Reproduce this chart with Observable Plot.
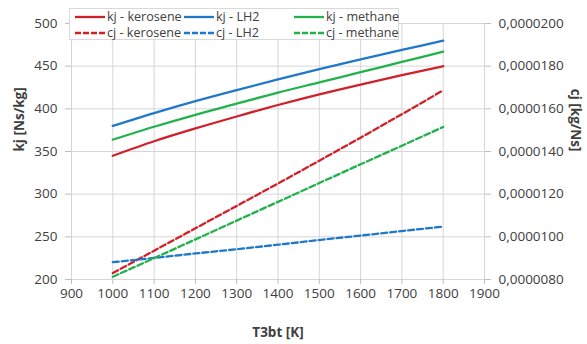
<!DOCTYPE html>
<html>
<head>
<meta charset="utf-8">
<script src="https://cdn.jsdelivr.net/npm/d3@7"></script>
<script src="https://cdn.jsdelivr.net/npm/@observablehq/plot@0.6"></script>
<style>
  html, body { margin: 0; padding: 0; background: #fff; }
  #wrap { position: relative; width: 587px; height: 344px; font-family: "Open Sans", sans-serif; }
  #legend { position: absolute; left: 69px; top: 8px; width: 330px; height: 32px; background: #fff;
            border: 1px solid #d9d9d9; box-sizing: border-box; }
  .item { position: absolute; display: flex; align-items: center; height: 14px; line-height: 14px; font-size: 12.6px; color: #404040; white-space: nowrap; }
  .item svg { margin-right: 2px; }
</style>
</head>
<body>
<div id="wrap"><div id="chart"></div><div id="legend"></div></div>
<script>
// Temperatures T3bt [K]
const T = [1000, 1100, 1200, 1300, 1400, 1500, 1600, 1700, 1800];
// kj [Ns/kg]
const kjKerosene = [345, 362, 377, 391, 404.5, 417, 428.5, 439.5, 450];
const kjLH2      = [380, 395, 409, 422, 434.5, 446.5, 458, 469, 480];
const kjMethane  = [364, 379, 393, 406, 419, 431, 443, 455, 467];
// cj [kg/Ns]
const cjKerosene = [8.30e-6, 9.35e-6, 10.40e-6, 11.45e-6, 12.50e-6, 13.57e-6, 14.65e-6, 15.75e-6, 16.87e-6];
const cjLH2      = [8.81e-6, 9.01e-6, 9.22e-6, 9.42e-6, 9.63e-6, 9.85e-6, 10.06e-6, 10.27e-6, 10.48e-6];
const cjMethane  = [8.13e-6, 9.00e-6, 9.88e-6, 10.76e-6, 11.64e-6, 12.52e-6, 13.40e-6, 14.27e-6, 15.15e-6];

const xTicks = [900, 1000, 1100, 1200, 1300, 1400, 1500, 1600, 1700, 1800, 1900];
const leftTicks = [200, 250, 300, 350, 400, 450, 500];
const rightTicks = [8e-6, 10e-6, 12e-6, 14e-6, 16e-6, 18e-6, 20e-6];
const rightLabels = ["0,0000080", "0,0000100", "0,0000120", "0,0000140", "0,0000160", "0,0000180", "0,0000200"];

const colors = { kerosene: "#d0202a", LH2: "#1f78c8", methane: "#22b24c" };

// map right-axis (cj) values onto the left-axis (kj) scale
const cjToLeft = d3.scaleLinear().domain([rightTicks[0], rightTicks[rightTicks.length - 1]])
                                 .range([leftTicks[0], leftTicks[leftTicks.length - 1]]);

const series = [
  { name: "kj - kerosene", fuel: "kerosene", dashed: false, vals: kjKerosene },
  { name: "kj - LH2", fuel: "LH2", dashed: false, vals: kjLH2 },
  { name: "kj - methane", fuel: "methane", dashed: false, vals: kjMethane },
  { name: "cj - kerosene", fuel: "kerosene", dashed: true, vals: cjKerosene.map(cjToLeft) },
  { name: "cj - LH2", fuel: "LH2", dashed: true, vals: cjLH2.map(cjToLeft) },
  { name: "cj - methane", fuel: "methane", dashed: true, vals: cjMethane.map(cjToLeft) }
];

const lineMarks = series.map(s => Plot.line(T.map((t, i) => ({ t, v: s.vals[i] })), {
  x: "t", y: "v", stroke: colors[s.fuel], strokeWidth: 2.3,
  strokeDasharray: s.dashed ? "6,3" : null, curve: "monotone-x"
}));

const fontSize = 13.5;
const chart = Plot.plot({
  width: 587, height: 344,
  marginLeft: 71, marginRight: 103, marginTop: 23, marginBottom: 65,
  style: { fontFamily: "Open Sans, sans-serif", fontSize: fontSize + "px", color: "#404040", background: "#fff" },
  x: { domain: [900, 1900] },
  y: { domain: [200, 500] },
  marks: [
    Plot.gridX(xTicks, { stroke: "#d6d6d6", strokeOpacity: 1 }),
    Plot.gridY(leftTicks, { stroke: "#d6d6d6", strokeOpacity: 1 }),
    Plot.axisX(xTicks, { tickSize: 5, tickPadding: 4, stroke: "#bfbfbf", fill: "#404040", label: null, tickFormat: d => String(d), fontSize }),
    Plot.axisY(leftTicks, { anchor: "left", tickSize: 6, tickPadding: 8, stroke: "#bfbfbf", fill: "#404040", label: null, tickFormat: d => String(d), fontSize }),
    Plot.axisY(leftTicks, { anchor: "right", tickSize: 6, tickPadding: 8, stroke: "#bfbfbf", fill: "#404040", label: null,
      tickFormat: d => rightLabels[leftTicks.indexOf(d)], fontSize }),
    ...lineMarks,
    Plot.text(["kj [Ns/kg]"], { frameAnchor: "left", dx: -52, rotate: -90, fontWeight: "bold", fill: "#404040", fontSize }),
    Plot.text(["cj [kg/Ns]"], { frameAnchor: "right", dx: 91, rotate: 90, fontWeight: "bold", fill: "#404040", fontSize }),
    Plot.text(["T3bt [K]"], { frameAnchor: "bottom", dy: 57, fontWeight: "bold", fill: "#404040", fontSize })
  ]
});
document.getElementById("chart").appendChild(chart);

// legend
const legend = document.getElementById("legend");
const order = [
  ["kj - kerosene", "kerosene", false], ["kj - LH2", "LH2", false], ["kj - methane", "methane", false],
  ["cj - kerosene", "kerosene", true], ["cj - LH2", "LH2", true], ["cj - methane", "methane", true]
];
const colX = [5, 114, 224];
order.forEach(([label, fuel, dashed], i) => {
  const col = i % 3, row = Math.floor(i / 3);
  const div = document.createElement("div");
  div.className = "item";
  div.style.left = colX[col] + "px";
  div.style.top = (1 + row * 16) + "px";
  div.innerHTML = `<svg width="30" height="4"><line x1="0" y1="2" x2="30" y2="2" stroke="${colors[fuel]}" stroke-width="2.3" ${dashed ? 'stroke-dasharray="6,2"' : ''}/></svg><span>${label}</span>`;
  legend.appendChild(div);
});
</script>
</body>
</html>
